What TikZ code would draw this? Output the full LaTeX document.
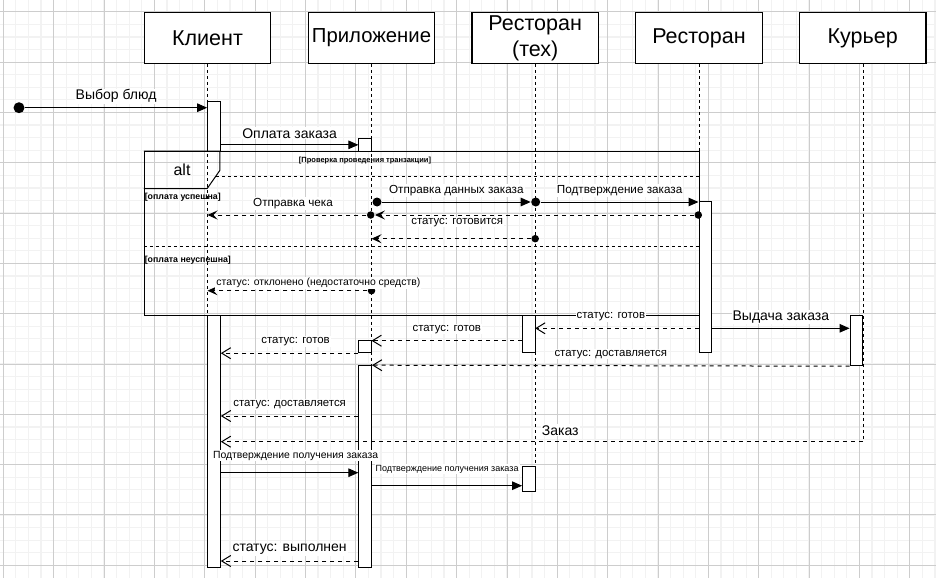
\documentclass[tikz,border=0pt]{standalone}
\usepackage{fontspec}
\setmainfont{Liberation Sans}
\usetikzlibrary{arrows.meta,backgrounds,positioning}
\definecolor{gridmaj}{HTML}{CDCDCD}
\definecolor{gridmin}{HTML}{F2F2F2}

\begin{document}
\begin{tikzpicture}
		[x=1pt, y=-1pt, inner sep=0pt, line width=1pt,
		head/.style	= {rectangle,draw,fill=white,line width=1.2pt,minimum width=126.4,minimum height=50.6,align=center,font=\fontsize{21.5}{26}\selectfont},
		bar/.style	= {rectangle,draw,fill=white,minimum width=12.6},
		life/.style	= {dash pattern=on 3pt off 3pt},
		call/.style	= {-{Triangle[length=10pt,width=8.5pt]}},
		back/.style	= {dash pattern=on 4pt off 4pt, -{Straight Barb[length=9pt,width=11pt]}},
		backs/.style	= {dash pattern=on 4pt off 4pt, -{Stealth[length=10pt,width=9pt,inset=4pt]}},
		dot/.style	= {circle,fill,minimum size=9pt},
		sdot/.style	= {circle,fill,minimum size=7.5pt},
		msg/.style	= {fill=white,inner sep=1pt,midway,yshift=11.5pt,font=\fontsize{11.7}{14}\selectfont},
		big/.style	= {font=\fontsize{14}{17}\selectfont},
		small/.style	= {font=\fontsize{11.4}{13}\selectfont},
		guard/.style	= {font=\bfseries\fontsize{8.8}{10}\selectfont},
		minor/.style	= {gridmin, line width=1.2pt},
		major/.style	= {gridmaj, line width=0.8pt}]
		
		\useasboundingbox (0,0) rectangle (936,578);
		
		% heads
		\node at (207.5, 38)	[head]	(kl)	{Клиент};
		\node at (371.5, 38)	[head, font=\fontsize{20.3}{25}\selectfont]	(app)	{Приложение};
		\node at (535.2, 38)	[head]	(rt)	{Ресторан\\(тех)};
		\node at (699, 38)		[head]	(rest)	{Ресторан};
		\node at (862.7, 38)	[head]	(kur)	{Курьер};
		
		% activation bars
		\node at (214, 126.35)	[bar, minimum height=50.7]	(kb1)	{};
		\node at (214, 441.15)	[bar, minimum height=252.3]	(kb2)	{};
		\node at (365.2, 144.85)	[bar, minimum height=12.3]	(pb1)	{};
		\node at (365.2, 346.5)	[bar, minimum height=12.4]	(pb2)	{};
		\node at (365.2, 466.5)	[bar, minimum height=201.6]	(pb3)	{};
		\node at (528.9, 334.2)	[bar, minimum height=37]	(tb1)	{};
		\node at (528.9, 479.2)	[bar, minimum height=25]	(tb2)	{};
		\node at (705.3, 277.2)	[bar, minimum height=151]	(rb)	{};
		\node at (856.4, 340.35)	[bar, minimum height=50.7]	(cb)	{};
		
		\coordinate (s8)	at (rb.west |- 0,328.3);
		\coordinate (s10)	at (tb1.west |- 0,340.7);
		\coordinate (s13)	at (pb3.west |- 0,416);
		\coordinate (s14)	at (kur.south |- 0,441.7);
		\coordinate (s15)	at (kb2.east |- 0,472.7);
		\coordinate (s16)	at (pb3.east |- 0,485.7);
		\coordinate (s17)	at (pb3.west |- 0,561);
		
		% grid and lifelines
		\begin{scope}[on background layer]
			\fill [white] (0,0) rectangle (936,578);
			\foreach \i in {0,...,74}
				\draw [minor] ({3.3+12.59*\i}, 0) -- ({3.3+12.59*\i}, 578);
			\foreach \i in {0,...,44}
				\draw [minor] (0, {11.8+12.58*\i}) -- (936, {11.8+12.58*\i});
			\foreach \i in {0,...,18}
				\draw [major] ({3.3+50.36*\i}, 0) -- ({3.3+50.36*\i}, 578);
			\foreach \i in {0,...,11}
				\draw [major] (0, {11.8+50.3*\i}) -- (936, {11.8+50.3*\i});
			
			\draw [life] (kl.south) -- (kl.south |- kb2.south);
			\draw [life] (app.south) -- (app.south |- pb3.south);
			\draw [life] (rt.south) -- (rt.south |- tb2.south);
			\draw [life] (rest.south) -- (rest.south |- rb.south);
			\draw [life] (kur.south) -- (s14);
		\end{scope}
		
		% alt fragment
		\node at (421.65, 233.35) [draw, minimum width=554.7, minimum height=163.3] (frag) {};
		\draw (frag.north west) -- ++(76,0) -- ++(0,19.3) -- ++(-12.6,18) -- ++(-63.4,0);
		\node at (182, 170) [font=\fontsize{16}{19}\selectfont] (alt) {alt};
		\draw [life] (216.3, 176.7) -- (frag.east |- 0,176.7);
		\draw [life] (frag.west |- 0,246) -- (frag.east |- 0,246);
		
		\node at (365, 160.7)	[guard, font=\bfseries\fontsize{7.5}{9}\selectfont]	(g0)	{[Проверка проведения транзакции]};
		\node at (144.3, 197.7)	[guard, anchor=west]	(g1)	{[оплата успешна]};
		\node at (144.3, 260.7)	[guard, anchor=west]	(g2)	{[оплата неуспешна]};
		
		% messages
		\node at (19, 107.7)	[dot, minimum size=11pt]	(d0)	{};
		\node at (377, 202)		[dot]	(d1)	{};
		\node at (535.7, 202)	[dot]	(d2)	{};
		\node at (698.3, 215)	[sdot]	(d3)	{};
		\node at (370.7, 215)	[sdot]	(d4)	{};
		\node at (535.2, 238.7)	[sdot]	(d5)	{};
		\node at (371.5, 290.7)	[sdot]	(d6)	{};
		
		\draw [call] (d0) -- (kb1.west |- d0) node[msg, big] (l1) {Выбор блюд};
		\draw [call] (kb1.east |- pb1) -- (pb1.west) node[msg, big] (l2) {Оплата заказа};
		\draw [call] (d1) -- (d2) node[msg] (l3) {Отправка данных заказа};
		\draw [call] (d2) -- (rb.west |- d2) node[msg] (l4) {Подтверждение заказа};
		\draw [backs] (d3) -- (d4);
		\draw [backs] (d4) -- (kl.south |- d4) node[msg, xshift=6pt] (l5) {Отправка чека};
		\draw [backs] (d5) -- (app.south |- d5) node[msg, small, xshift=6pt, yshift=5pt] (l6) {статус: готовится};
		\draw [backs] (d6) -- (kl.south |- d6) node[msg, font=\fontsize{10.4}{12}\selectfont, xshift=31pt, yshift=-3.5pt] (l7) {статус: отклонено (недостаточно средств)};
		
		\draw [back] (s8) -- (rt.south |- s8) node[msg, small, xshift=-6pt] (l8) {статус: готов};
		\draw [call] (rb.east |- s8) -- (cb.west |- s8) node[msg, big] (l9) {Выдача заказа};
		\draw [back] (s10) -- (app.south |- s10) node[msg, small] (l10) {статус: готов};
		\draw [back] (pb2.south west) -- (kb2.east |- pb2.south) node[msg, small, xshift=6pt] (l11) {статус: готов};
		\draw [back] (cb.south west) -- (pb3.north east) node[msg, small] (l12) {статус: доставляется};
		\draw [back] (s13) -- (kb2.east |- s13) node[msg, small] (l13) {статус: доставляется};
		\draw [back] (s14) -- (kb2.east |- s14) node[msg, big, xshift=18.5pt] (l14) {Заказ};
		\draw [call] (s15) -- (pb3.west |- s15) node[msg, font=\fontsize{10.4}{12}\selectfont, xshift=6pt, yshift=5.5pt] (l15) {Подтверждение получения заказа};
		\draw [call] (s16) -- (tb2.west |- s16) node[msg, font=\fontsize{9}{11}\selectfont, yshift=5pt] (l16) {Подтверждение получения заказа};
		\draw [back] (s17) -- (kb2.east |- s17) node[msg, big] (l17) {статус: выполнен};
		
\end{tikzpicture}
\end{document}
